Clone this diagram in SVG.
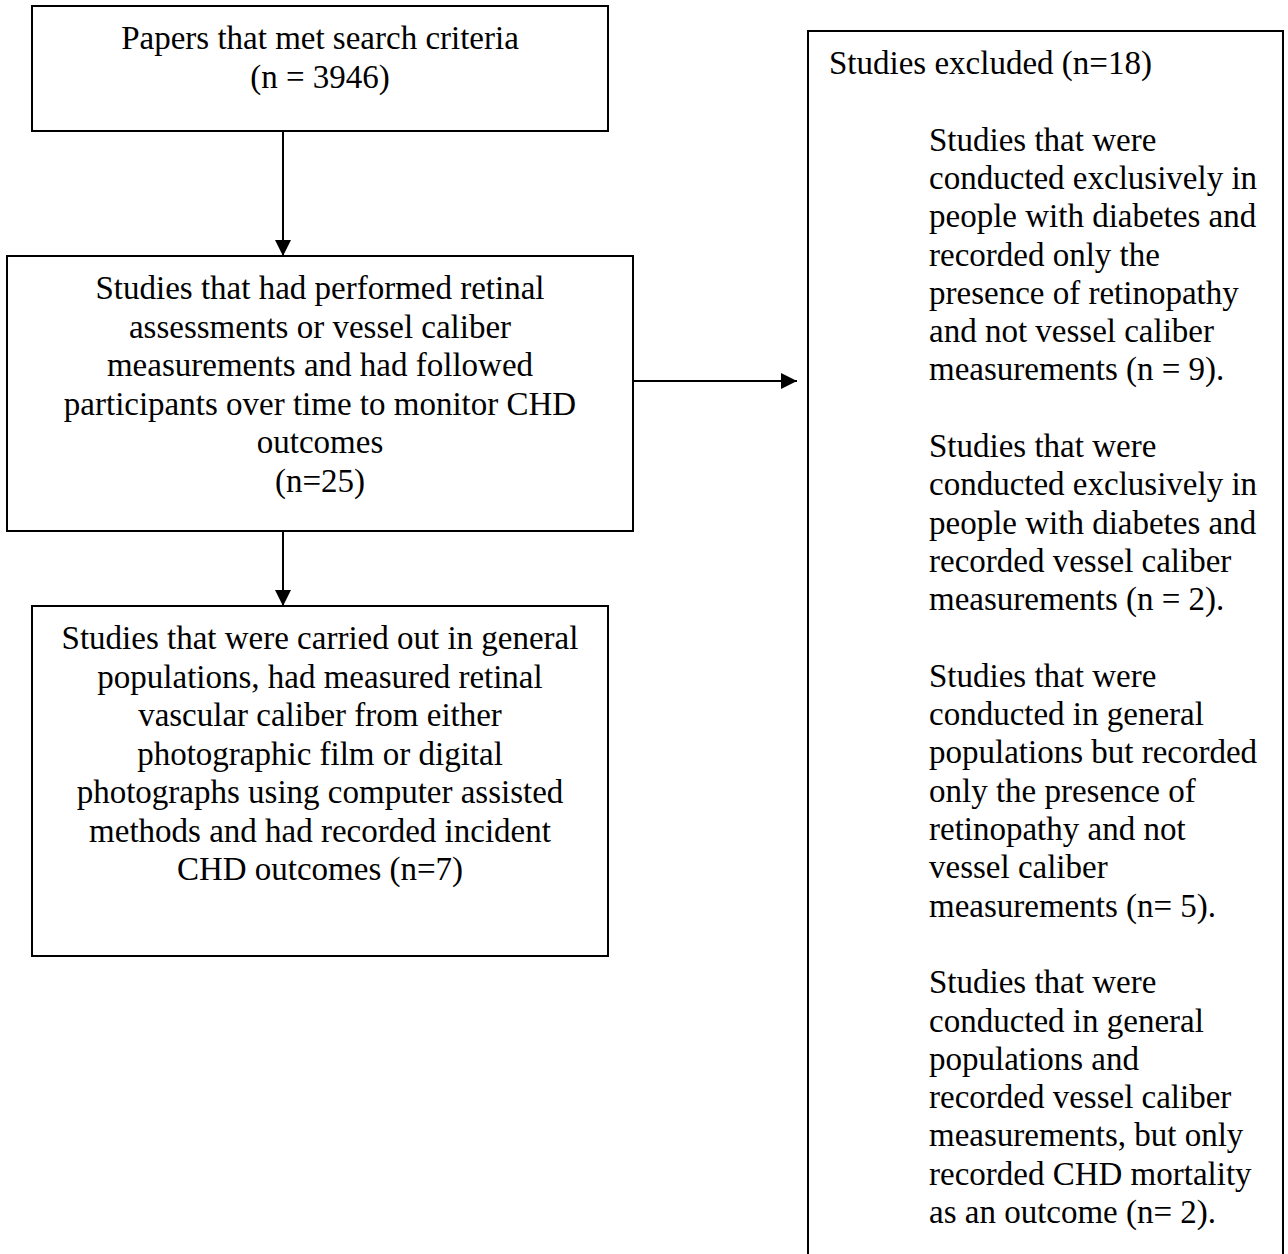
<svg xmlns="http://www.w3.org/2000/svg" width="1288" height="1254" viewBox="0 0 1288 1254">
<style>
.box{fill:#fff;stroke:#000;stroke-width:2}
.t{font-family:"Liberation Serif","Times New Roman",serif;font-size:33px;fill:#000}
.c{text-anchor:middle}
.conn{stroke:#000;stroke-width:2;fill:none}
</style>
<defs>
<marker id="ah" markerWidth="16" markerHeight="16" refX="16" refY="8" orient="auto" markerUnits="userSpaceOnUse">
<path d="M0,0 L16,8 L0,16 Z" fill="#000"/>
</marker>
</defs>
<rect width="1288" height="1254" fill="#fff"/>
<g id="connectors">
<line class="conn" x1="283" y1="131" x2="283" y2="256" marker-end="url(#ah)"/>
<line class="conn" x1="283" y1="531" x2="283" y2="606" marker-end="url(#ah)"/>
<line class="conn" x1="633" y1="381" x2="797" y2="381" marker-end="url(#ah)"/>
</g>
<g id="papers">
<rect class="box" x="32" y="6" width="576" height="125"/>
<text class="t c" x="320" y="49">Papers that met search criteria</text>
<text class="t c" x="320" y="88">(n = 3946)</text>
</g>
<g id="studies-retinal">
<rect class="box" x="7" y="256" width="626" height="275"/>
<text class="t c" x="320" y="299">Studies that had performed retinal</text>
<text class="t c" x="320" y="337.5">assessments or vessel caliber</text>
<text class="t c" x="320" y="376">measurements and had followed</text>
<text class="t c" x="320" y="414.5">participants over time to monitor CHD</text>
<text class="t c" x="320" y="453">outcomes</text>
<text class="t c" x="320" y="491.5">(n=25)</text>
</g>
<g id="studies-included">
<rect class="box" x="32" y="606" width="576" height="350"/>
<text class="t c" x="320" y="649">Studies that were carried out in general</text>
<text class="t c" x="320" y="687.5">populations, had measured retinal</text>
<text class="t c" x="320" y="726">vascular caliber from either</text>
<text class="t c" x="320" y="764.5">photographic film or digital</text>
<text class="t c" x="320" y="803">photographs using computer assisted</text>
<text class="t c" x="320" y="841.5">methods and had recorded incident</text>
<text class="t c" x="320" y="880">CHD outcomes (n=7)</text>
</g>
<g id="excluded">
<rect class="box" x="808" y="31" width="475" height="1250"/>
<text class="t" x="829" y="74">Studies excluded (n=18)</text>
<text class="t" x="929" y="150.6">Studies that were</text>
<text class="t" x="929" y="188.9">conducted exclusively in</text>
<text class="t" x="929" y="227.2">people with diabetes and</text>
<text class="t" x="929" y="265.5">recorded only the</text>
<text class="t" x="929" y="303.8">presence of retinopathy</text>
<text class="t" x="929" y="342.1">and not vessel caliber</text>
<text class="t" x="929" y="380.4">measurements (n = 9).</text>
<text class="t" x="929" y="457">Studies that were</text>
<text class="t" x="929" y="495.3">conducted exclusively in</text>
<text class="t" x="929" y="533.6">people with diabetes and</text>
<text class="t" x="929" y="571.9">recorded vessel caliber</text>
<text class="t" x="929" y="610.2">measurements (n = 2).</text>
<text class="t" x="929" y="686.8">Studies that were</text>
<text class="t" x="929" y="725.1">conducted in general</text>
<text class="t" x="929" y="763.4">populations but recorded</text>
<text class="t" x="929" y="801.7">only the presence of</text>
<text class="t" x="929" y="840">retinopathy and not</text>
<text class="t" x="929" y="878.3">vessel caliber</text>
<text class="t" x="929" y="916.6">measurements (n= 5).</text>
<text class="t" x="929" y="993.2">Studies that were</text>
<text class="t" x="929" y="1031.5">conducted in general</text>
<text class="t" x="929" y="1069.8">populations and</text>
<text class="t" x="929" y="1108.1">recorded vessel caliber</text>
<text class="t" x="929" y="1146.4">measurements, but only</text>
<text class="t" x="929" y="1184.7">recorded CHD mortality</text>
<text class="t" x="929" y="1223">as an outcome (n= 2).</text>
</g>
</svg>
